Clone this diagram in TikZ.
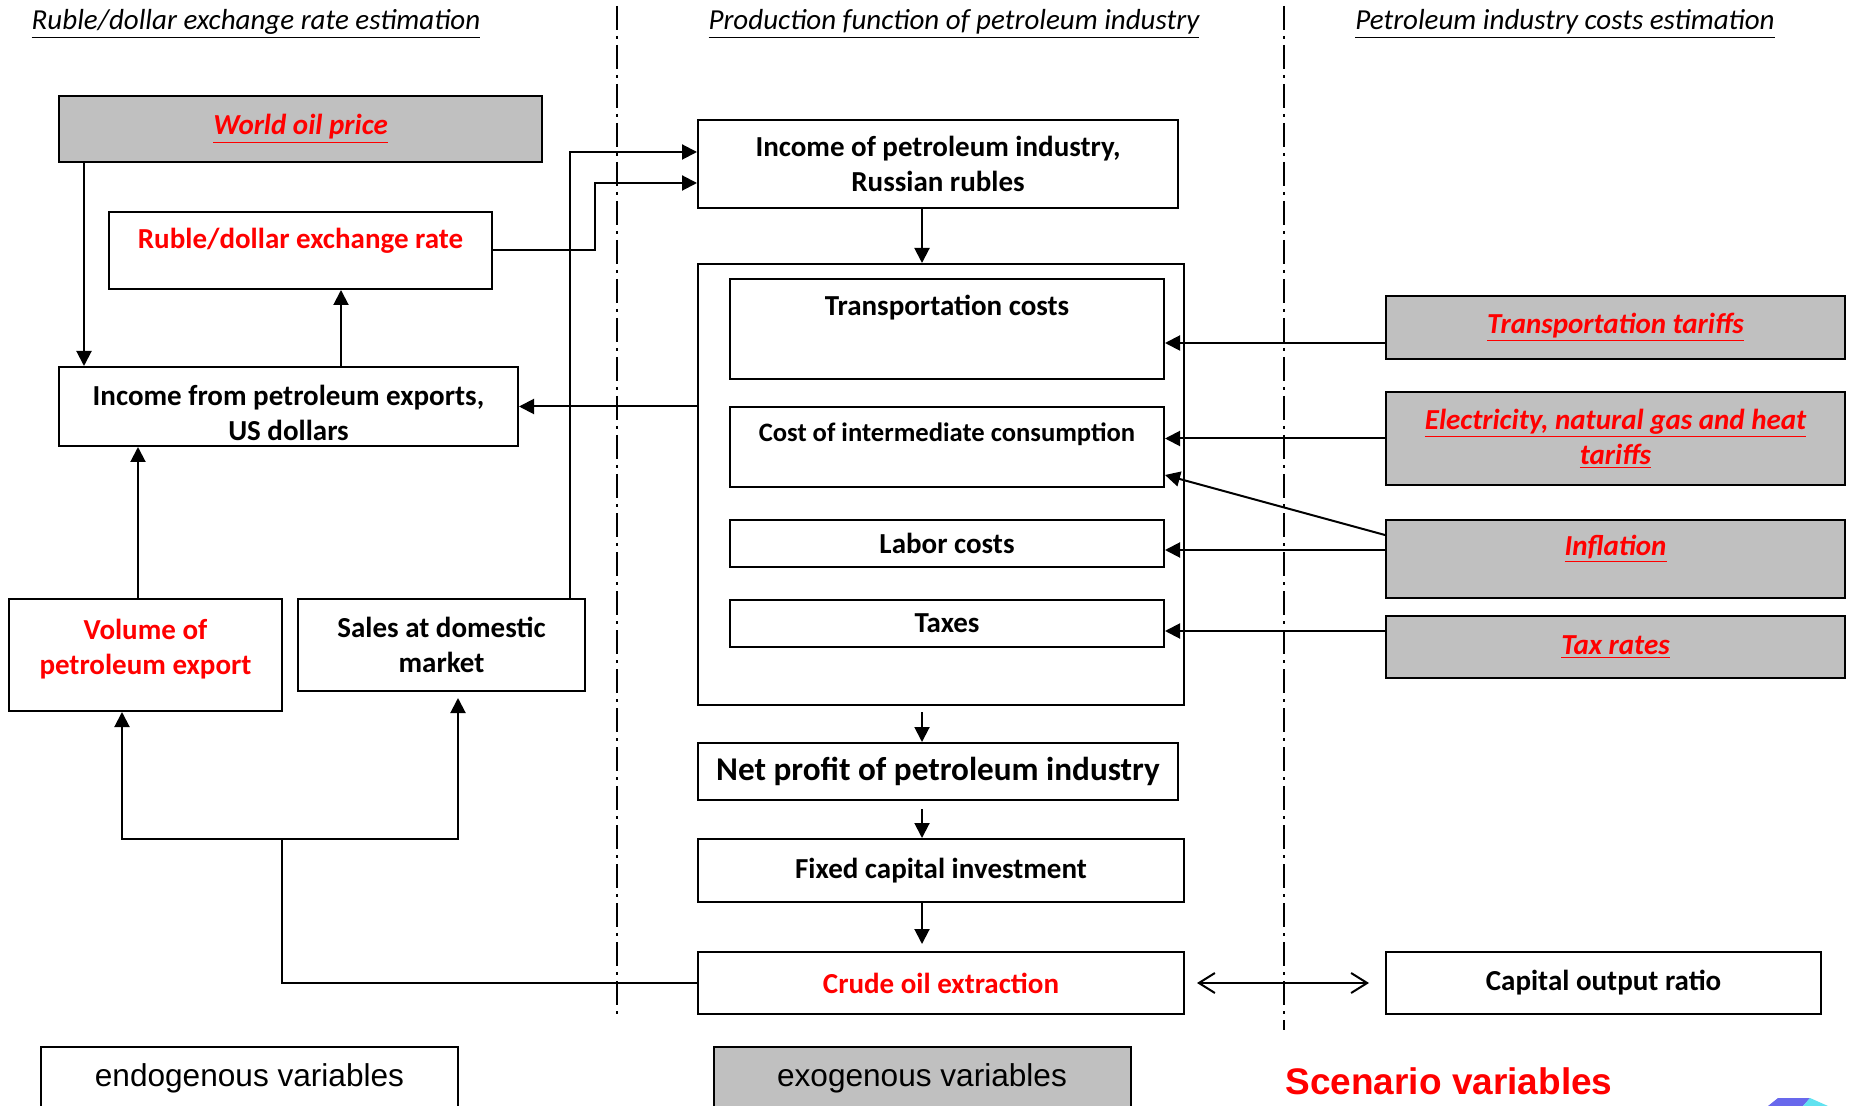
\documentclass[tikz,border=0pt]{standalone}
\usepackage{fontspec}
\setmainfont{Carlito}
\newfontfamily\legendfont{Liberation Sans}
\usetikzlibrary{arrows.meta}

\definecolor{exogray}{RGB}{192,192,192}
\definecolor{scenred}{RGB}{255,0,0}
\definecolor{logoblue}{RGB}{104,104,236}
\definecolor{logocyan}{RGB}{96,226,240}

\begin{document}
\begin{tikzpicture}[x=0.5pt, y=-0.5pt,
	boxtext/.style={font=\fontsize{14.5}{17.5}\selectfont\bfseries},
	box/.style={draw, line width=1pt, inner sep=2pt, align=center, boxtext},
	exo/.style={box, fill=exogray, text=scenred, font=\fontsize{14.5}{17.5}\selectfont\bfseries\itshape},
	legendbox/.style={draw, line width=1pt, minimum width=208.5pt, minimum height=31pt, font=\legendfont\fontsize{15.8}{19}\selectfont},
	heading/.style={font=\fontsize{14.5}{17.5}\selectfont\itshape},
	arr/.style={line width=1pt, -{Triangle[length=7.5pt, width=7.5pt]}},
	barb/.style={line width=1pt, {Straight Barb[length=8pt, width=10pt]}-{Straight Barb[length=8pt, width=10pt]}},
	divider/.style={line width=0.8pt, dash pattern=on 12pt off 3pt on 1.5pt off 3pt}]

	\path[use as bounding box, clip] (0,0) rectangle (1856,1106);

	% column headings and dividers
	\node[heading] (hrate) at (256,24) {\underline{Ruble/dollar exchange rate estimation}};
	\node[heading] (hprod) at (954,24) {\underline{Production function of petroleum industry}};
	\node[heading] (hcost) at (1565,24) {\underline{Petroleum industry costs estimation}};

	\draw[divider] (617,6) -- (617,1020);
	\draw[divider] (1284,6) -- (1284,1030);

	% exchange rate block
	\node[exo, minimum width=241.5pt, minimum height=33pt] (oil) at (300.5,129) {\underline{World oil price}};
	\node[box, minimum width=191.5pt, minimum height=38.5pt,
		label={[boxtext, text=scenred, yshift=5pt]center:Ruble/dollar exchange rate}] (rate) at (300.5,250.5) {};
	\node[box, minimum width=229.5pt, minimum height=39.5pt,
		label={[boxtext, align=center, yshift=-3pt]center:Income from petroleum exports,\\US dollars}] (exp) at (288.5,406.5) {};
	\node[box, minimum width=136.5pt, minimum height=56pt,
		label={[boxtext, align=center, text=scenred, yshift=3pt]center:Volume of\\petroleum export}] (vol) at (145.5,655) {};
	\node[box, minimum width=143.5pt, minimum height=46pt] (sales) at (441.5,645) {Sales at domestic\\market};

	% production function block
	\node[box, minimum width=240pt, minimum height=44pt] (inc) at (938,164) {Income of petroleum industry,\\Russian rubles};
	\node[draw, line width=1pt, minimum width=243pt, minimum height=220.5pt] (cont) at (941,484.5) {};
	\node[box, minimum width=217pt, minimum height=50pt,
		label={[boxtext, yshift=10.5pt]center:Transportation costs}] (trans) at (947,329) {};
	\node[box, minimum width=217pt, minimum height=40pt,
		label={[font=\fontsize{13.3}{16}\selectfont\bfseries, yshift=6.5pt]center:Cost of intermediate consumption}] (inter) at (947,447) {};
	\node[box, minimum width=217pt, minimum height=23.5pt] (labor) at (947,543.5) {Labor costs};
	\node[box, minimum width=217pt, minimum height=23.5pt] (taxes) at (947,623.5) {Taxes};
	\node[box, minimum width=240pt, minimum height=28.5pt, font=\fontsize{16.6}{20}\selectfont\bfseries] (net) at (938,771.5) {Net profit of petroleum industry};
	\node[box, minimum width=243pt, minimum height=31.5pt] (fixed) at (941,870.5) {Fixed capital investment};
	\node[box, text=scenred, minimum width=243pt, minimum height=31pt] (crude) at (941,983) {Crude oil extraction};

	% costs block
	\node[box, minimum width=217.5pt, minimum height=31pt] (cor) at (1603.5,983) {Capital output ratio};
	\node[exo, minimum width=229.5pt, minimum height=31.5pt] (ttar) at (1615.5,327.5) {\underline{Transportation tariffs}};
	\node[exo, minimum width=229.5pt, minimum height=46.5pt] (etar) at (1615.5,438.5) {\underline{Electricity, natural gas and heat}\\\underline{tariffs}};
	\node[exo, minimum width=229.5pt, minimum height=39pt,
		label={[text=scenred, font=\fontsize{14.5}{17.5}\selectfont\bfseries\itshape, yshift=5pt]center:\underline{Inflation}}] (infl) at (1615.5,559) {};
	\node[exo, minimum width=229.5pt, minimum height=31pt] (trate) at (1615.5,647) {\underline{Tax rates}};

	% legend
	\node[legendbox] (endo) at (249.5,1078) {endogenous variables};
	\node[legendbox, fill=exogray] (exog) at (922,1078) {exogenous variables};
	\node[text=scenred, font=\legendfont\bfseries\fontsize{18.5}{22}\selectfont] (scen) at (1449,1081) {Scenario variables};

	\fill[logoblue] (1778,1098) -- (1810,1098) -- (1803,1106) -- (1768,1106) -- cycle;
	\fill[logocyan] (1810,1098) -- (1828,1106) -- (1803,1106) -- cycle;

	% connectors
	\coordinate (spine) at (922,0);
	\coordinate (fork) at (282,839);

	\draw[arr] ([xshift=13pt]oil.south west) -- ([xshift=13pt]exp.north west);
	\draw[arr] ([xshift=20.25pt]rate.south |- exp.north) -- ([xshift=20.25pt]rate.south);
	\draw[arr] (rate.east) -- ++(51pt,0) |- ([yshift=-9.5pt]inc.west);
	\draw[arr] ([xshift=-8pt]sales.north east) |- ([yshift=6pt]inc.west);
	\draw[arr] (inc.south -| spine) -- (cont.north -| spine);
	\draw[arr] (cont.west |- exp.east) -- (exp.east);
	\draw[arr] ([xshift=-3.75pt]vol.north) -- ([xshift=-3.75pt]vol.north |- exp.south);

	\draw[arr] ([yshift=-3pt]cont.south -| spine) -- (net.north -| spine);
	\draw[arr] ([yshift=-4pt]net.south -| spine) -- (fixed.north -| spine);
	\draw[arr] (fixed.south -| spine) -- ([yshift=3.5pt]crude.north -| spine);

	\draw[line width=1pt] (crude.west) -| (fork);
	\draw[arr] (fork) -| ([xshift=-11.75pt]vol.south);
	\draw[arr, shorten >=3pt] (fork) -| ([xshift=8.25pt]sales.south);

	\draw[barb, shorten <=6pt, shorten >=8pt] (crude.east) -- (cor.west);

	\draw[arr] ([yshift=-7pt]trans.east -| ttar.west) -- ([yshift=-7pt]trans.east);
	\draw[arr] (etar.west) -- (etar.west -| inter.east);
	\draw[arr] ([yshift=12pt]infl.west) -- ([yshift=-14pt]inter.east);
	\draw[arr] ([yshift=-3.25pt]labor.east -| infl.west) -- ([yshift=-3.25pt]labor.east);
	\draw[arr] ([yshift=-3.75pt]taxes.east -| trate.west) -- ([yshift=-3.75pt]taxes.east);

\end{tikzpicture}
\end{document}
